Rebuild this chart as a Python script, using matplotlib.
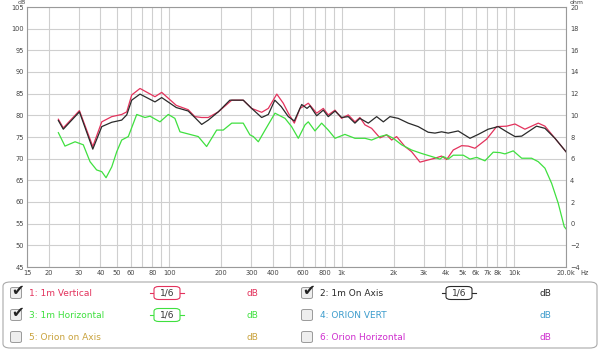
import matplotlib
matplotlib.use("Agg")
import matplotlib.pyplot as plt
from matplotlib.patches import FancyBboxPatch

# 1: 1m Vertical
red_freq = [22.8, 24.35, 30.2, 36.1, 40.7, 46.5, 53.1, 56.8, 60.7, 67.8, 82.8, 90.6,
            110, 129, 141, 154.5, 168.7, 192.8, 230.7, 269, 301, 344, 376, 421, 459,
            491, 532, 574, 614, 641, 717, 783, 837, 916, 1000, 1093, 1195, 1277, 1366,
            1493, 1669, 1825, 1951, 2084, 2330, 2547, 2846, 3177, 3478, 3800, 4065,
            4440, 4966, 5424, 5930, 6930, 7925, 9060, 10120, 11560, 13810, 15100,
            17260, 20000]
red_db = [79.1, 77.1, 81.1, 72.8, 78.5, 79.7, 80.2, 80.8, 84.7, 86.2, 84.3, 85.3,
          82.3, 81.3, 79.7, 79.5, 79.5, 80.8, 83.5, 83.5, 81.6, 80.7, 81.6, 84.9, 82.8,
          80.5, 78.2, 81.6, 82.3, 82.8, 80.5, 81.6, 80.1, 81.2, 79.3, 80.1, 78.5, 79.5,
          77.8, 77.0, 74.8, 75.5, 74.3, 75.1, 72.8, 71.6, 69.2, 69.7, 70.1, 70.6, 69.8,
          72.0, 73.0, 72.9, 72.4, 74.5, 77.4, 77.5, 78.0, 76.8, 78.2, 77.5,
          74.7, 71.6]

# 2: 1m On Axis
black_freq = [22.8, 24.35, 30.2, 36.1, 40.7, 46.5, 53.1, 56.8, 60.7, 67.8, 82.8, 90.6,
              110, 129, 141, 154.5, 168.7, 192.8, 225, 269, 301, 344, 376, 410, 447,
              491, 532, 587, 630, 656, 717, 783, 837, 916, 1000, 1093, 1195, 1277,
              1428, 1597, 1746, 1907, 2130, 2434, 2781, 3177, 3478, 3800, 4150, 4740,
              5550, 6200, 7080, 8100, 9060, 10120, 11070, 13500, 15100, 17260, 20000]
black_db = [78.8, 76.8, 80.8, 72.2, 77.4, 78.4, 78.9, 80.1, 83.5, 84.9, 83.1, 84.1,
            81.8, 81.0, 79.5, 77.9, 78.9, 80.8, 83.5, 83.5, 81.6, 79.5, 80.2, 83.5, 82.0,
            79.7, 78.7, 82.5, 81.6, 82.2, 79.9, 81.2, 79.7, 81.0, 79.5, 79.7, 78.2, 79.3,
            78.2, 79.7, 78.5, 79.7, 79.3, 78.2, 77.4, 76.1, 75.9, 76.2, 75.9, 76.4,
            74.7, 75.6, 76.8, 77.4, 76.2, 75.1, 75.2, 77.5, 77.0, 74.7, 71.6]

# 3: 1m Horizontal
green_freq = [22.8, 24.9, 28.5, 31.8, 34.8, 38.0, 40.7, 43.1, 46.5, 49.7, 53.1, 58.0,
              64.9, 72.5, 77.5, 88.5, 98.9, 108, 115.6, 135, 147.6, 165, 188.7, 206,
              230.7, 269, 294, 308, 329, 360, 411, 470, 513, 561, 614, 641, 701, 766,
              837, 916, 1045, 1195, 1366, 1493, 1669, 1825, 1993, 2228, 2547, 2911,
              3326, 3718, 3885, 4150, 4440, 5075, 5550, 6070, 6780, 7570, 8280, 8850,
              9890, 11070, 12640, 13810, 15100, 16510, 18030, 19540, 20000]
green_db = [76.0, 72.9, 73.9, 73.2, 69.3, 67.4, 67.0, 65.6, 68.1, 71.6, 74.3, 75.1,
            80.2, 79.5, 79.8, 78.5, 80.2, 79.3, 76.2, 75.5, 75.1, 72.8, 76.6, 76.6,
            78.2, 78.2, 75.5, 75.1, 73.9, 76.6, 80.5, 79.3, 77.4, 74.7, 77.8, 78.5, 76.4, 78.2,
            76.6, 74.7, 75.6, 74.7, 74.7, 74.3, 75.1, 75.5, 74.7, 73.2, 72.0, 71.2,
            70.5, 69.9, 70.5, 69.9, 70.8, 70.8, 69.9, 70.3, 69.5, 71.5, 71.4, 71.1,
            71.8, 70.1, 70.1, 69.3, 67.8, 64.3, 59.7, 54.3, 53.8]

tick_freqs = [15, 20, 30, 40, 50, 60, 80, 100, 200, 300, 400, 600, 800, 1000, 2000,
              3000, 4000, 5000, 6000, 7000, 8000, 10000, 20000]
tick_labels = ["15", "20", "30", "40", "50", "60", "80", "100", "200", "300", "400",
               "600", "800", "1k", "2k", "3k", "4k", "5k", "6k", "7k", "8k", "10k", "20.0k"]
grid_freqs = [70, 90, 500, 700, 900, 9000]

RED = "#e3325c"
BLACK = "#2a2a2a"
GREEN = "#3fe03f"

fig = plt.figure(figsize=(6, 3.5), dpi=100)
fig.patch.set_facecolor("white")
ax = fig.add_axes([27 / 600, 1 - 267 / 350, 539 / 600, 260 / 350])

ax.semilogx(red_freq, red_db, color=RED, lw=0.9)
ax.semilogx(black_freq, black_db, color=BLACK, lw=0.9)
ax.semilogx(green_freq, green_db, color=GREEN, lw=0.9)

ax.set_xlim(15, 20000)
ax.set_ylim(45, 105)
ax.set_xticks(tick_freqs)
ax.set_xticklabels(tick_labels)
ax.set_xticks(grid_freqs, minor=True)
ax.xaxis.set_minor_formatter(plt.NullFormatter())
ax.set_yticks(range(45, 106, 5))
ax.grid(which="both", axis="x", color="#cfcfcf", lw=0.8)
ax.grid(which="major", axis="y", color="#cfcfcf", lw=0.8)
ax.tick_params(which="both", length=0, labelsize=4.8, labelcolor="#444444", pad=2)
for s in ax.spines.values():
    s.set_color("#9a9a9a")
    s.set_linewidth(0.8)

ax2 = ax.twinx()
ax2.set_ylim(-4, 20)
ax2.set_yticks(range(-4, 21, 2))
ax2.tick_params(length=0, labelsize=4.8, labelcolor="#444444", pad=3)
for s in ax2.spines.values():
    s.set_visible(False)

fig.text(22 / 600, 1 - 3 / 350, "dB", fontsize=4.5, color="#444444", ha="center", va="center")
fig.text(577 / 600, 1 - 3 / 350, "ohm", fontsize=4.5, color="#444444", ha="center", va="center")
fig.text(585 / 600, 1 - 273 / 350, "Hz", fontsize=4.8, color="#444444", ha="center", va="center")

# legend panel
box = FancyBboxPatch((3 / 600, 1 - 348 / 350), 594 / 600, 66 / 350,
                     boxstyle="round,pad=0,rounding_size=0.012",
                     transform=fig.transFigure, facecolor="white",
                     edgecolor="#aaaaaa", lw=0.8, zorder=0)
fig.add_artist(box)

rows = [293, 315, 337]
entries = [
    (16, 29, "1: 1m Vertical", RED, True, 167, 252),
    (16, 29, "3: 1m Horizontal", GREEN, True, 167, 252),
    (16, 29, "5: Orion on Axis", "#c9a23c", False, None, 252),
    (307, 320, "2: 1m On Axis", BLACK, True, 459, 545),
    (307, 320, "4: ORION VERT", "#3c9ccc", False, None, 545),
    (307, 320, "6: Orion Horizontal", "#cf2fcf", False, None, 545),
]
for i, (cx, tx, label, col, checked, sx, dx) in enumerate(entries):
    y = 1 - rows[i % 3] / 350
    cb = FancyBboxPatch((cx / 600 - 5.5 / 600, y - 5.5 / 350), 11 / 600, 11 / 350,
                        boxstyle="round,pad=0,rounding_size=0.004",
                        transform=fig.transFigure, facecolor="#eeeeee",
                        edgecolor="#9a9a9a", lw=0.7, zorder=2)
    fig.add_artist(cb)
    if checked:
        fig.text(cx / 600 + 1.5 / 600, y + 2 / 350, "\u2714", fontsize=11, color="#222222",
                 ha="center", va="center", zorder=3)
    fig.text(tx / 600, y, label, fontsize=6.5, color=col, ha="left", va="center", zorder=3)
    if sx is not None:
        fig.add_artist(plt.Line2D([(sx - 17) / 600, (sx + 17) / 600], [y, y],
                                  transform=fig.transFigure, color=col, lw=0.8, zorder=2))
        sb = FancyBboxPatch(((sx - 13) / 600, y - 6.5 / 350), 26 / 600, 13 / 350,
                            boxstyle="round,pad=0,rounding_size=0.008",
                            transform=fig.transFigure, facecolor="white",
                            edgecolor=col, lw=0.8, zorder=3)
        fig.add_artist(sb)
        fig.text(sx / 600, y, "1/6", fontsize=6.5, color="#333333", ha="center",
                 va="center", zorder=4)
    fig.text(dx / 600, y, "dB", fontsize=6.5, color=col, ha="center", va="center", zorder=3)

fig.savefig("out.png", dpi=100, facecolor="white")
